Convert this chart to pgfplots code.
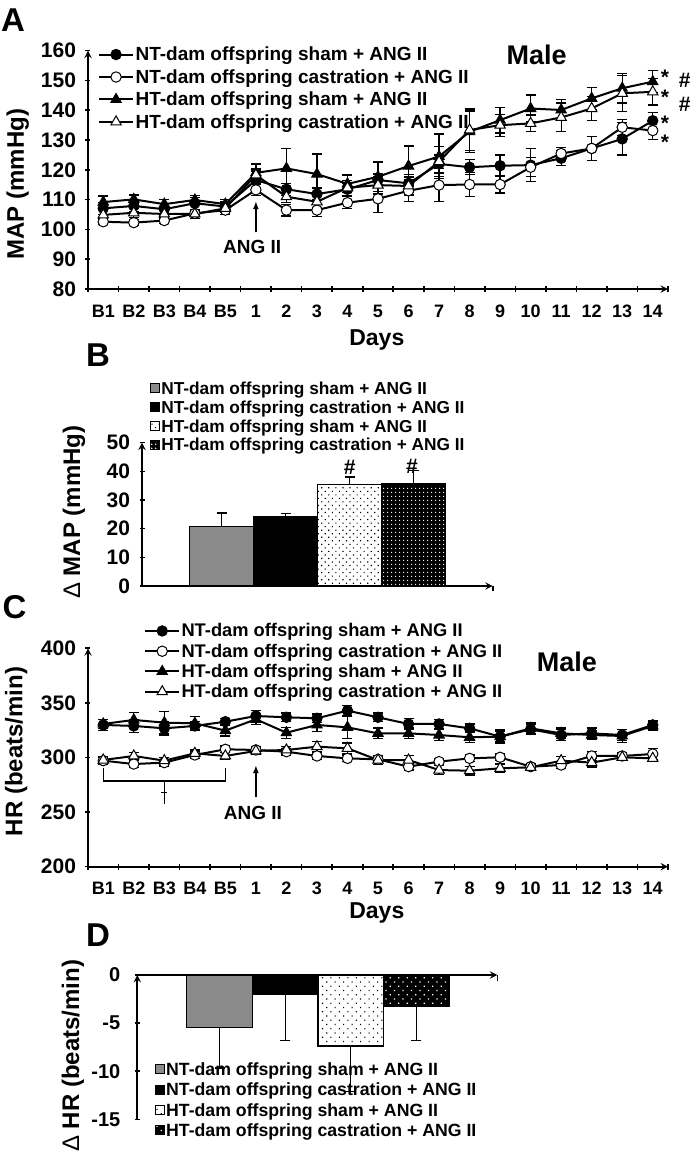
\documentclass[border=0pt]{standalone}
\usepackage{fontspec}
\setmainfont{Liberation Sans}
\usepackage{pgfplots}
\pgfplotsset{compat=1.18}
\usetikzlibrary{patterns.meta,arrows.meta}
\newcommand\fs[1]{\fontsize{#1}{#1}\selectfont\bfseries}
\definecolor{bargray}{HTML}{8A8A8A}

\pgfplotsset{
  base/.style={scale only axis, clip=false, axis line style={line width=2.2pt,-},
    tick style={line width=1.6pt,black}, tick align=outside, major tick length=5pt,
    minor tick length=6pt, axis y line=left},
  lineleg/.style={legend image code/.code={\draw[mark repeat=2,mark phase=2,##1] plot coordinates {(0pt,0pt) (17pt,0pt) (34pt,0pt)};}},
  boxleg/.style={legend image code/.code={\draw[##1, line width=0.8pt] (0pt,-4pt) rectangle (9pt,5pt);}},
  ebar/.style={error bars/.cd, y dir=both, y explicit,
    error bar style={line width=1.3pt, black},
    error mark options={rotate=90, mark size=5pt, line width=1.3pt, black}},
  sNS/.style={black, line width=2pt, mark=*, mark size=5.2pt, mark options={fill=black, line width=1pt, solid}},
  sNC/.style={black, line width=2pt, mark=*, mark size=5.2pt, mark options={fill=white, line width=1pt, solid}},
  sHS/.style={black, line width=2pt, mark=triangle*, mark size=6pt, mark options={fill=black, line width=1pt, solid}},
  sHC/.style={black, line width=2pt, mark=triangle*, mark size=6pt, mark options={fill=white, line width=1pt, solid}},
  bebar/.style={error bars/.cd, y dir=#1, y explicit,
    error bar style={line width=1.2pt, black},
    error mark options={rotate=90, mark size=5pt, line width=1.2pt, black}},
}

\begin{document}
\begin{tikzpicture}
\useasboundingbox (0pt,0pt) rectangle (690pt,1156pt);

% ---------------- Panel A ----------------
\begin{axis}[base, axis x line=bottom, at={(88pt,866.9pt)}, anchor=south west,
  width=580pt, height=238.4pt,
  xmin=0, xmax=19, ymin=80, ymax=160,
  ytick={80,90,...,160}, yticklabels={80,90,100,110,120,130,140,150,160},
  xtick={0.5,1.5,...,18.5}, xticklabels={B1,B2,B3,B4,B5,1,2,3,4,5,6,7,8,9,10,11,12,13,14},
  minor xtick={0,1,...,19}, major x tick style={draw=none},
  yticklabel style={font=\fs{21}, xshift=-6pt}, xticklabel style={font=\fs{18}, yshift=-10pt},
  ylabel={MAP (mmHg)}, ylabel style={font=\fs{24}, at={(axis description cs:-0.121,0.44)}, anchor=center},
  xlabel={Days}, xlabel style={font=\fs{23}, at={(axis description cs:0.498,-0.215)}, anchor=center},
  lineleg, legend cell align=left,
  legend style={draw=none, fill=none, at={(axis description cs:0.017,1.023)}, anchor=north west,
    font=\fs{19}, inner sep=0pt, row sep=4.2pt, nodes={inner sep=1.5pt}},
]
\addplot[sNS, ebar] coordinates {
(0.5,107.1) +- (0,2) (1.5,107.9) +- (0,2) (2.5,106.8) +- (0,2) (3.5,108.8) +- (0,2) (4.5,107.7) +- (0,1.5)
(5.5,116.6) +- (0,3) (6.5,113.5) +- (0,2) (7.5,111.9) +- (0,2) (8.5,113.5) +- (0,2) (9.5,116.6) +- (0,2)
(10.5,115.5) +- (0,3) (11.5,122.0) +- (0,3) (12.5,120.9) +- (0,2.5) (13.5,121.4) +- (0,3.6) (14.5,121.6) +- (0,5.5)
(15.5,123.9) +- (0,2.5) (16.5,127.2) +- (0,4) (17.5,130.4) +- (0,5.4) (18.5,136.5) +- (0,2.7)};
\addplot[sNC, ebar] coordinates {
(0.5,102.6) +- (0,1) (1.5,102.3) +- (0,1) (2.5,103.0) +- (0,1) (3.5,105.4) +- (0,1) (4.5,106.5) +- (0,1.5)
(5.5,113.3) +- (0,2) (6.5,106.5) +- (0,2) (7.5,106.5) +- (0,2.2) (8.5,109.0) +- (0,2) (9.5,110.3) +- (0,4.5)
(10.5,113.0) +- (0,3.7) (11.5,114.9) +- (0,5.6) (12.5,115.1) +- (0,4) (13.5,115.1) +- (0,2.9) (14.5,120.9) +- (0,3.2)
(15.5,125.5) +- (0,2) (16.5,127.2) +- (0,4) (17.5,134.3) +- (0,2.7) (18.5,133.2) +- (0,3)};
\addplot[sHS, ebar] coordinates {
(0.5,109.2) +- (0,2) (1.5,110.1) +- (0,1.5) (2.5,108.5) +- (0,1.5) (3.5,109.9) +- (0,1.5) (4.5,108.5) +- (0,1.5)
(5.5,119.0) +- (0,3) (6.5,120.5) +- (0,6.7) (7.5,118.6) +- (0,6.7) (8.5,115.3) +- (0,3) (9.5,117.7) +- (0,4.9)
(10.5,121.3) +- (0,6.7) (11.5,124.5) +- (0,7.5) (12.5,132.8) +- (0,7) (13.5,136.7) +- (0,4.3) (14.5,140.6) +- (0,4.5)
(15.5,140.1) +- (0,3.6) (16.5,144.0) +- (0,3.7) (17.5,147.4) +- (0,5) (18.5,149.6) +- (0,3.7)};
\addplot[sHC, ebar] coordinates {
(0.5,104.9) +- (0,1.5) (1.5,105.6) +- (0,1.5) (2.5,105.2) +- (0,1.5) (3.5,105.2) +- (0,1.5) (4.5,107.1) +- (0,1.5)
(5.5,118.3) +- (0,2) (6.5,111.0) +- (0,2) (7.5,109.3) +- (0,2) (8.5,114.0) +- (0,2.5) (9.5,114.9) +- (0,3)
(10.5,114.6) +- (0,3) (11.5,122.8) +- (0,5) (12.5,133.4) +- (0,7) (13.5,135.0) +- (0,3.7) (14.5,135.6) +- (0,2.8)
(15.5,137.6) +- (0,4.8) (16.5,140.6) +- (0,4) (17.5,145.7) +- (0,6) (18.5,146.2) +- (0,4.4)};
\legend{NT-dam offspring sham + ANG II, NT-dam offspring castration + ANG II, HT-dam offspring sham + ANG II, HT-dam offspring castration + ANG II}
\node[font=\fs{27}] at (axis cs:14.7,158.6) {Male};
\draw[-{Latex[length=8pt,width=6pt]}, line width=1.5pt] (axis cs:5.5,99) -- (axis cs:5.5,109.5);
\node[font=\fs{19}] at (axis cs:5.38,94.2) {ANG II};
\node[font=\fs{21}, anchor=base, inner sep=0pt] at (axis cs:18.9,148.5) {*};
\node[font=\fs{21}, anchor=base, inner sep=0pt] at (axis cs:18.9,141.9) {*};
\node[font=\fs{21}, anchor=base, inner sep=0pt] at (axis cs:18.9,133.3) {*};
\node[font=\fs{21}, anchor=base, inner sep=0pt] at (axis cs:18.9,126.8) {*};
\node[font=\fs{21}, anchor=base, inner sep=0pt] at (axis cs:19.55,147.6) {\#};
\node[font=\fs{21}, anchor=base, inner sep=0pt] at (axis cs:19.55,139.7) {\#};
\end{axis}

\node[font=\fs{33}] at (13pt,1136pt) {A};

% ---------------- Panel B ----------------
\begin{axis}[base, axis x line=bottom, at={(142pt,570pt)}, anchor=south west,
  width=350.7pt, height=143.3pt,
  xmin=0, xmax=350.7, ymin=0, ymax=50, xtick=\empty,
  ytick={0,10,...,50}, yticklabels={0,10,20,30,40,50},
  yticklabel style={font=\fs{21}, xshift=-6pt},
  ylabel={{\mdseries Δ} MAP (mmHg)}, ylabel style={font=\fs{24}, at={(axis description cs:-0.194,0.516)}, anchor=center},
  legend cell align=left,
  legend style={draw=none, fill=none, at={(axis description cs:0.023,1.436)}, anchor=north west,
    font=\fs{17.3}, inner sep=0pt, row sep=2.5pt, nodes={inner sep=1.2pt}},
]
\addplot[ybar, bar width=64pt, bar shift=0pt, boxleg, draw=black, line width=1.2pt, fill=bargray, bebar=plus]
  coordinates {(79.5,20.8) +- (0,4.7)};
\addplot[ybar, bar width=64pt, bar shift=0pt, boxleg, draw=black, line width=1.2pt, fill=black, bebar=plus]
  coordinates {(143.5,24.3) +- (0,1)};
\addplot[ybar, bar width=64pt, bar shift=0pt, boxleg, draw=black, line width=1.2pt, preaction={fill=white},
  pattern={Dots[angle=45,distance=5pt,radius=0.8pt]}, pattern color=black, bebar=plus]
  coordinates {(207.5,35.3) +- (0,2.7)};
\addplot[ybar, bar width=64pt, bar shift=0pt, boxleg, draw=black, line width=1.2pt, preaction={fill=black},
  pattern={Dots[distance=4pt,radius=0.9pt]}, pattern color=white, bebar=plus]
  coordinates {(271.5,35.6) +- (0,4.7)};
\legend{NT-dam offspring sham + ANG II, NT-dam offspring castration + ANG II, HT-dam offspring sham + ANG II, HT-dam offspring castration + ANG II}
\draw[line width=1.6pt] (axis cs:350.7,0) -- ++(0pt,-5pt);
\node[font=\fs{21}, anchor=base, inner sep=0pt] at (axis cs:207.6,38.8) {\#};
\node[font=\fs{21}, anchor=base, inner sep=0pt] at (axis cs:270,39.2) {\#};
\end{axis}

\node[font=\fs{33}] at (98pt,801pt) {B};

% ---------------- Panel C ----------------
\begin{axis}[base, axis x line=bottom, at={(88pt,289.3pt)}, anchor=south west,
  width=580pt, height=218.4pt,
  xmin=0, xmax=19, ymin=200, ymax=400,
  ytick={200,250,...,400}, yticklabels={200,250,300,350,400},
  xtick={0.5,1.5,...,18.5}, xticklabels={B1,B2,B3,B4,B5,1,2,3,4,5,6,7,8,9,10,11,12,13,14},
  minor xtick={0,1,...,19}, major x tick style={draw=none},
  yticklabel style={font=\fs{21}, xshift=-6pt}, xticklabel style={font=\fs{18}, yshift=-9pt},
  ylabel={HR (beats/min)}, ylabel style={font=\fs{24}, at={(axis description cs:-0.124,0.527)}, anchor=center},
  xlabel={Days}, xlabel style={font=\fs{23}, at={(axis description cs:0.498,-0.21)}, anchor=center},
  lineleg, legend cell align=left,
  legend style={draw=none, fill=none, at={(axis description cs:0.0966,1.12)}, anchor=north west,
    font=\fs{18.3}, inner sep=0pt, row sep=2.9pt, nodes={inner sep=1.3pt}},
]
\addplot[sNS, ebar] coordinates {
(0.5,329.8) +- (0,5) (1.5,328.9) +- (0,6) (2.5,326.7) +- (0,6) (3.5,328.9) +- (0,4) (4.5,332.8) +- (0,3)
(5.5,338.0) +- (0,5) (6.5,336.8) +- (0,4) (7.5,335.9) +- (0,4) (8.5,342.9) +- (0,5) (9.5,336.8) +- (0,4)
(10.5,330.7) +- (0,5) (11.5,330.7) +- (0,4) (12.5,326.7) +- (0,4) (13.5,319.1) +- (0,5) (14.5,325.8) +- (0,5)
(15.5,320.6) +- (0,5) (16.5,322.1) +- (0,5) (17.5,320.6) +- (0,5) (18.5,329.8) +- (0,4)};
\addplot[sNC, ebar] coordinates {
(0.5,297.1) +- (0,3) (1.5,294.0) +- (0,3) (2.5,295.3) +- (0,3) (3.5,302.3) +- (0,3) (4.5,307.5) +- (0,3)
(5.5,306.9) +- (0,3) (6.5,305.3) +- (0,3) (7.5,301.4) +- (0,3) (8.5,299.2) +- (0,3) (9.5,298.3) +- (0,3)
(10.5,291.6) +- (0,3) (11.5,296.2) +- (0,3) (12.5,299.2) +- (0,3) (13.5,300.2) +- (0,3) (14.5,291.6) +- (0,3)
(15.5,293.1) +- (0,3) (16.5,301.4) +- (0,4) (17.5,301.4) +- (0,3) (18.5,303.2) +- (0,5)};
\addplot[sHS, ebar] coordinates {
(0.5,330.7) +- (0,4) (1.5,334.4) +- (0,7) (2.5,331.9) +- (0,10) (3.5,331.3) +- (0,6) (4.5,324.6) +- (0,5)
(5.5,335.0) +- (0,5) (6.5,322.7) +- (0,5) (7.5,329.8) +- (0,6) (8.5,327.6) +- (0,10) (9.5,322.1) +- (0,5)
(10.5,322.1) +- (0,5) (11.5,320.6) +- (0,5) (12.5,318.5) +- (0,5) (13.5,319.1) +- (0,6) (14.5,326.7) +- (0,5)
(15.5,322.1) +- (0,5) (16.5,320.6) +- (0,4) (17.5,319.7) +- (0,6) (18.5,328.9) +- (0,4)};
\addplot[sHC, ebar] coordinates {
(0.5,297.7) +- (0,3) (1.5,301.4) +- (0,3) (2.5,297.1) +- (0,3) (3.5,303.8) +- (0,3) (4.5,301.4) +- (0,3)
(5.5,306.0) +- (0,3) (6.5,306.9) +- (0,3) (7.5,309.9) +- (0,5) (8.5,308.4) +- (0,5) (9.5,297.7) +- (0,4)
(10.5,297.7) +- (0,4) (11.5,288.5) +- (0,4) (12.5,287.9) +- (0,4) (13.5,290.1) +- (0,4) (14.5,291.0) +- (0,3)
(15.5,297.1) +- (0,4) (16.5,295.3) +- (0,4) (17.5,300.2) +- (0,3) (18.5,299.2) +- (0,3)};
\legend{NT-dam offspring sham + ANG II, NT-dam offspring castration + ANG II, HT-dam offspring sham + ANG II, HT-dam offspring castration + ANG II}
\node[font=\fs{27}] at (axis cs:15.69,387.7) {Male};
\draw[-{Latex[length=8pt,width=6pt]}, line width=1.5pt] (axis cs:5.5,264) -- (axis cs:5.5,293);
\node[font=\fs{19}] at (axis cs:5.4,248.9) {ANG II};
\draw[line width=1.3pt] (axis cs:0.5,290) -- (axis cs:0.5,278.5) -- (axis cs:4.5,278.5) -- (axis cs:4.5,290);
\draw[line width=1.3pt] (axis cs:2.5,278.5) -- (axis cs:2.5,257.4);
\draw[line width=1.3pt] (axis cs:2.4,268) -- (axis cs:2.6,268);
\end{axis}

\node[font=\fs{33}] at (14.5pt,549.3pt) {C};

% ---------------- Panel D ----------------
\begin{axis}[base, axis x line=top, at={(137.3pt,36.7pt)}, anchor=south west,
  width=360pt, height=144.3pt,
  xmin=0, xmax=360, ymin=-15, ymax=0, xtick=\empty,
  ytick={-15,-10,-5,0}, yticklabels={-15,-10,-5,0},
  yticklabel style={font=\fs{20}, xshift=-11pt},
  ylabel={{\mdseries Δ} HR (beats/min)}, ylabel style={font=\fs{24}, at={(axis description cs:-0.179,0.439)}, anchor=center},
  legend cell align=left,
  legend style={draw=none, fill=none, at={(axis description cs:0.049,0.404)}, anchor=north west,
    font=\fs{17.7}, inner sep=0pt, row sep=3.7pt, nodes={inner sep=1.2pt}},
]
\addplot[ybar, bar width=65.7pt, bar shift=0pt, boxleg, draw=black, line width=1.2pt, fill=bargray, bebar=minus]
  coordinates {(82.2,-5.47) +- (0,4.2)};
\addplot[ybar, bar width=65.7pt, bar shift=0pt, boxleg, draw=black, line width=1.2pt, fill=black, bebar=minus]
  coordinates {(148,-1.97) +- (0,4.85)};
\addplot[ybar, bar width=65.7pt, bar shift=0pt, boxleg, draw=black, line width=1.2pt, preaction={fill=white},
  pattern={Dots[angle=45,distance=6pt,radius=0.8pt]}, pattern color=black, bebar=minus]
  coordinates {(213.5,-7.38) +- (0,4.74)};
\addplot[ybar, bar width=65.7pt, bar shift=0pt, boxleg, draw=black, line width=1.2pt, preaction={fill=black},
  pattern={Dots[angle=45,distance=6pt,radius=0.9pt]}, pattern color=white, bebar=minus]
  coordinates {(279,-3.22) +- (0,3.6)};
\legend{NT-dam offspring sham + ANG II, NT-dam offspring castration + ANG II, HT-dam offspring sham + ANG II, HT-dam offspring castration + ANG II}
\draw[line width=1.6pt] (axis cs:360,0) -- ++(0pt,-6pt);
\end{axis}

\node[font=\fs{33}] at (98pt,221pt) {D};
\end{tikzpicture}
\end{document}
